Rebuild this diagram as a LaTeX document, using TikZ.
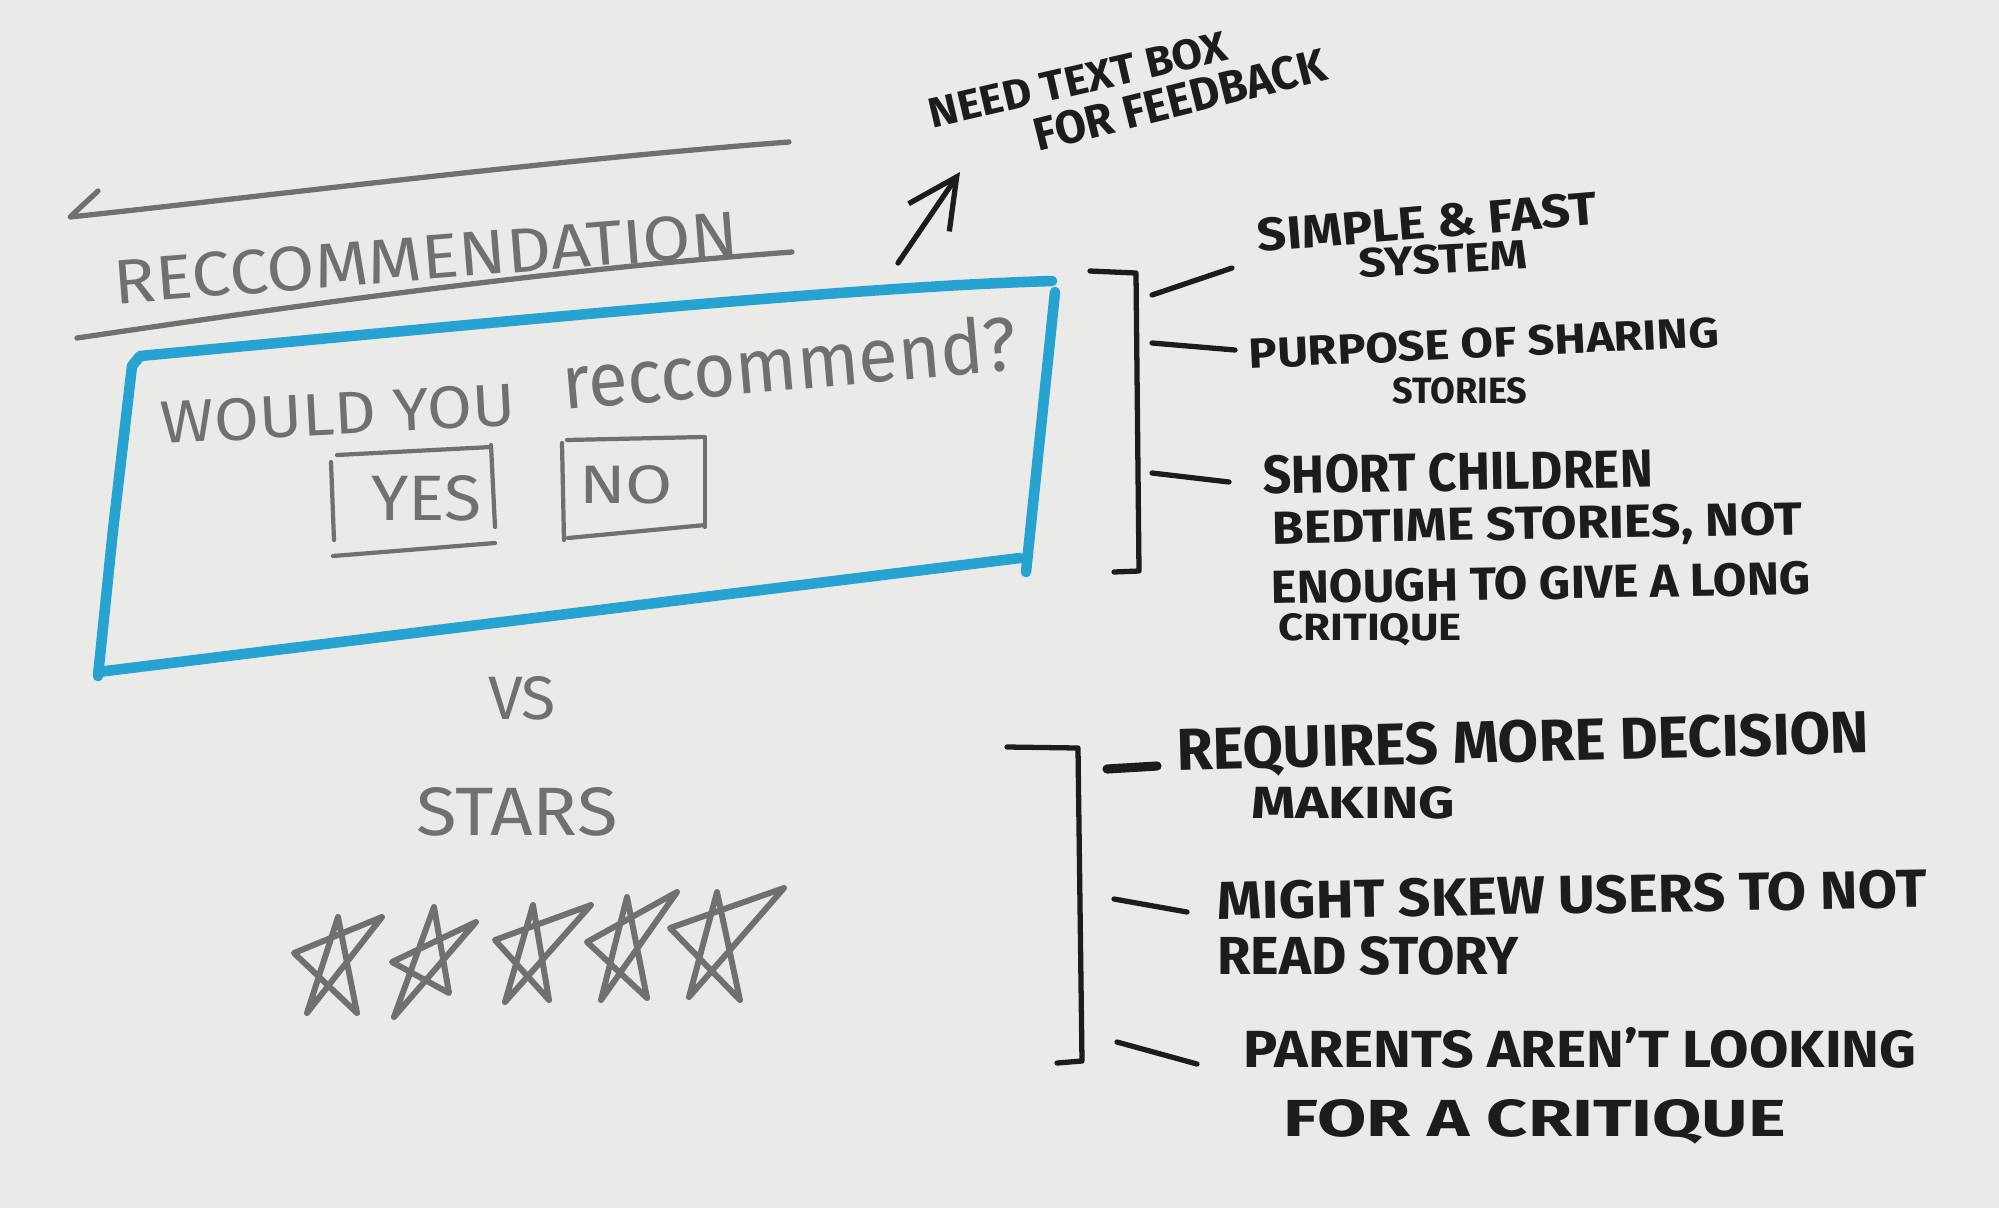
\documentclass[tikz,border=0pt]{standalone}
\usepackage{fontspec}
\setmainfont{Fira Sans}
\usetikzlibrary{arrows.meta}
\newlength\pxu
\setlength\pxu{0.01cm}
\newcommand\hw[3]{\resizebox{#1\pxu}{#2\pxu}{#3}}
\definecolor{paper}{RGB}{234,234,233}
\definecolor{pencilc}{RGB}{112,112,112}
\definecolor{markerc}{RGB}{28,28,28}
\definecolor{bluec}{RGB}{38,163,209}
\begin{document}
\begin{tikzpicture}[x=0.01cm,y=-0.01cm,
  pencil/.style={draw=pencilc,line width=1.5pt,line cap=round,line join=round},
  marker/.style={draw=markerc,line width=1.5pt,line cap=round,line join=round},
  bluepen/.style={draw=bluec,line width=3pt,line cap=round,line join=round},
  gtext/.style={text=pencilc,inner sep=0pt},
  btext/.style={text=markerc,inner sep=0pt,font=\bfseries},
]
\fill[paper] (0,0) rectangle (1999,1208);
\useasboundingbox (0,0) rectangle (1999,1208);

% ---------- heading ----------
\draw[pencil] (98,191) -- (70,217) .. controls (250,198) and (550,160) .. (789,142);
\node[gtext,rotate=4.5] (title) at (426,258) {\hw{626}{44}{RECCOMMENDATION}};
\draw[pencil] (77,338) .. controls (300,305) and (550,270) .. (792,252);

% ---------- blue box ----------
\draw[bluepen] (113,530) -- (132,366) -- (140,356) .. controls (500,322) and (850,287) .. (1052,281);
\draw[bluepen] (1055,292) -- (1026,572);
\draw[bluepen] (1020,558) -- (98,672);
\draw[bluepen] (113,530) -- (98,676);

\node[gtext,rotate=3] (would) at (338,414) {\hw{355}{42}{WOULD YOU}};
\node[gtext,rotate=5] (recq) at (789,362) {\hw{456}{57}{reccommend?}};

% YES box
\draw[pencil,line width=1.2pt] (337,455) -- (491,447);
\draw[pencil,line width=1.2pt] (331,462) -- (334,540);
\draw[pencil,line width=1.2pt] (491,445) -- (495,527);
\draw[pencil,line width=1.2pt] (333,556) -- (495,543);
\node[gtext] (yes) at (426,498) {\hw{110}{45}{YES}};
% NO box
\draw[pencil,line width=1.2pt] (567,440) -- (703,437);
\draw[pencil,line width=1.2pt] (562,443) -- (564,540);
\draw[pencil,line width=1.2pt] (705,437) -- (705,527);
\draw[pencil,line width=1.2pt] (568,538) -- (705,525);
\node[gtext] (no) at (626,485) {\hw{94}{38}{NO}};

% ---------- VS / stars ----------
\node[gtext] (vs) at (522,698) {\hw{68}{43}{VS}};
\node[gtext] (stars) at (517,812) {\hw{201}{48}{STARS}};

\draw[pencil,line width=1.7pt] (307,1013) -- (338,917) -- (357,1013) -- (294,953) -- (382,917) -- cycle;
\draw[pencil,line width=1.7pt] (394,1017) -- (434,907) -- (449,993) -- (392,962) -- (476,922) -- cycle;
\draw[pencil,line width=1.7pt] (505,1002) -- (533,905) -- (549,1000) -- (495,940) -- (591,905) -- cycle;
\draw[pencil,line width=1.7pt] (601,1000) -- (627,897) -- (647,998) -- (587,942) -- (677,892) -- cycle;
\draw[pencil,line width=1.7pt] (689,997) -- (717,892) -- (740,1000) -- (670,928) -- (784,888) -- cycle;

% ---------- arrow + note ----------
\coordinate (arrS) at (898,263);
\coordinate (arrE) at (960,172);
\draw[marker,-{Straight Barb[length=14pt,width=14pt,line width=1.5pt]}] (arrS) -- (arrE);
\node[btext,rotate=13] (need) at (1078,80) {\hw{305}{30}{NEED TEXT BOX}};
\node[btext,rotate=14] (feed) at (1180,100) {\hw{299}{33}{FOR FEEDBACK}};

% ---------- top bracket ----------
\coordinate (b1a) at (1090,271);
\coordinate (b1b) at (1136,273);
\coordinate (b1c) at (1139,571);
\coordinate (b1d) at (1114,572);
\draw[marker] (b1a) -- (b1b) -- (b1c) -- (b1d);
\coordinate (t1a) at (1152,295); \coordinate (t1b) at (1232,268);
\coordinate (t2a) at (1152,343); \coordinate (t2b) at (1235,350);
\coordinate (t3a) at (1152,473); \coordinate (t3b) at (1229,482);
\draw[marker] (t1a) -- (t1b);
\draw[marker] (t2a) -- (t2b);
\draw[marker] (t3a) -- (t3b);

\node[btext,rotate=4.7] (simple) at (1427,222) {\hw{340}{33}{SIMPLE \& FAST}};
\node[btext,rotate=3] (system) at (1443,259) {\hw{169}{29}{SYSTEM}};
\node[btext,rotate=2.7] (purpose) at (1484,343) {\hw{470}{30}{PURPOSE OF SHARING}};
\node[btext] (stories) at (1460,391) {\hw{135}{26}{STORIES}};
\node[btext,rotate=1] (short) at (1458,472) {\hw{390}{38}{SHORT CHILDREN}};
\node[btext,rotate=1] (bed) at (1537,527) {\hw{530}{33}{BEDTIME STORIES, NOT}};
\node[btext,rotate=1] (enough) at (1541,583) {\hw{539}{33}{ENOUGH TO GIVE A LONG}};
\node[btext] (crit1) at (1370,630) {\hw{183}{27}{CRITIQUE}};

% ---------- bottom bracket ----------
\coordinate (b2a) at (1007,747);
\coordinate (b2b) at (1078,748);
\coordinate (b2c) at (1082,1061);
\coordinate (b2d) at (1057,1063);
\draw[marker] (b2a) -- (b2b) -- (b2c) -- (b2d);
\coordinate (u1a) at (1107,769); \coordinate (u1b) at (1157,766);
\coordinate (u2a) at (1114,899); \coordinate (u2b) at (1187,912);
\coordinate (u3a) at (1117,1042); \coordinate (u3b) at (1197,1064);
\draw[marker,line width=2.6pt] (u1a) -- (u1b);
\draw[marker] (u2a) -- (u2b);
\draw[marker] (u3a) -- (u3b);

\node[btext,rotate=1.5] (req) at (1523,745) {\hw{693}{42}{REQUIRES MORE DECISION}};
\node[btext] (making) at (1353,803) {\hw{204}{32}{MAKING}};
\node[btext,rotate=1] (might) at (1572,895) {\hw{709}{38}{MIGHT SKEW USERS TO NOT}};
\node[btext] (read) at (1368,956) {\hw{301}{38}{READ STORY}};
\node[btext] (parents) at (1580,1048) {\hw{673}{40}{PARENTS AREN'T LOOKING}};
\node[btext] (fora) at (1535,1122) {\hw{502}{37}{FOR A CRITIQUE}};
\end{tikzpicture}
\end{document}
